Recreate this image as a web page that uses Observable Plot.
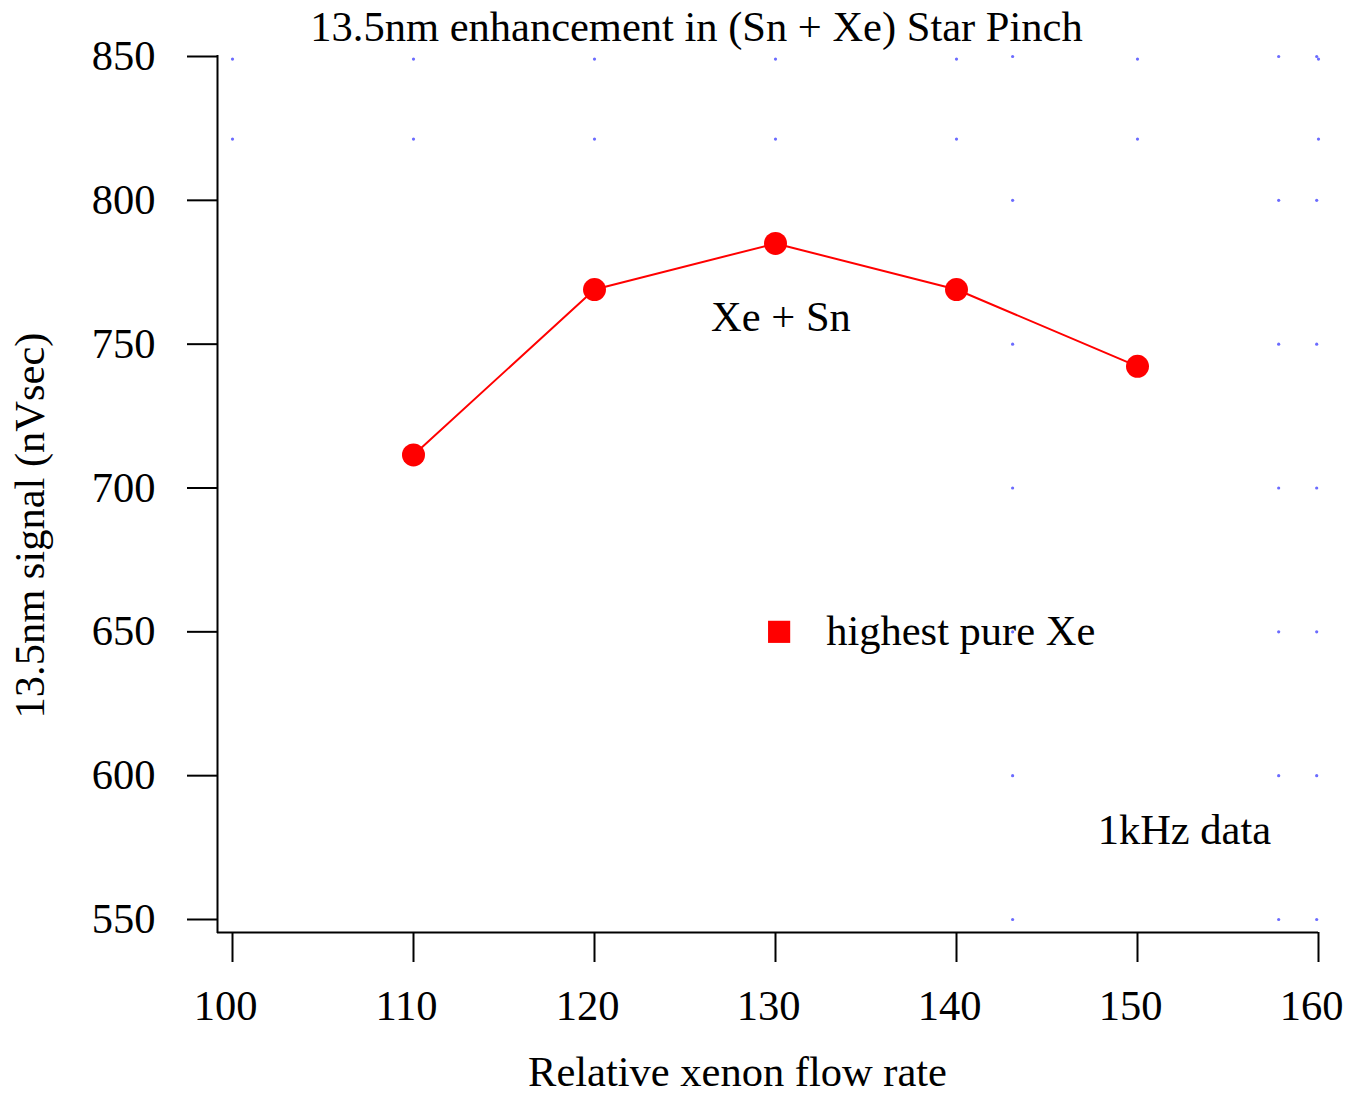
<!DOCTYPE html>
<html><head><meta charset="utf-8">
<script src="https://cdn.jsdelivr.net/npm/d3@7"></script>
<script src="https://cdn.jsdelivr.net/npm/@observablehq/plot@0.6"></script>
<style>body{margin:0;background:#fff}</style>
</head><body><div id="chart"></div>
<script>
const flowRate = [110, 120, 130, 140, 150];
const signal = [711.5, 769, 785, 769, 742.3];
const pureXeX = [130.2];
const pureXeY = [650];
const xTicks = [100, 110, 120, 130, 140, 150, 160];
const yTicks = [550, 600, 650, 700, 750, 800, 850];
const gridAx = [100, 110, 120, 130, 140, 150, 160];
const gridAy = [849.1, 821.3];
const gridBx = [143.1, 157.8, 159.9];
const gridBy = [550, 600, 650, 700, 750, 800, 850];
const titleText = "13.5nm enhancement in (Sn + Xe) Star Pinch";
const xLabel = "Relative xenon flow rate";
const yLabel = "13.5nm signal (nVsec)";
const noteCenterText = ["Xe + Sn"];
const noteCenterX = [130.3];
const noteCenterY = [759.3];
const noteLeftText = ["highest pure Xe", "1kHz data"];
const noteLeftX = [132.8, 147.8];
const noteLeftY = [650, 581];

const series = flowRate.map((x, i) => ({x, y: signal[i]}));
const pure = pureXeX.map((x, i) => ({x, y: pureXeY[i]}));
const gridA = gridAx.flatMap(x => gridAy.map(y => ({x, y})));
const gridB = gridBx.flatMap(x => gridBy.map(y => ({x, y})));
const notesL = noteLeftText.map((t, i) => ({t, x: noteLeftX[i], y: noteLeftY[i]}));
const notesC = noteCenterText.map((t, i) => ({t, x: noteCenterX[i], y: noteCenterY[i]}));

const FS = 42.5;
const chart = Plot.plot({
  width: 1349,
  height: 1096,
  marginTop: 56,
  marginBottom: 177,
  marginLeft: 232,
  marginRight: 31,
  style: {fontFamily: "Liberation Serif", fontSize: FS + "px", background: "#fff", color: "#000"},
  x: {domain: [100, 160]},
  y: {domain: [550, 850]},
  marks: [
    Plot.dot(gridA, {x: "x", y: "y", r: 1.6, fill: "#6b6bff", stroke: null}),
    Plot.dot(gridB, {x: "x", y: "y", r: 1.6, fill: "#6b6bff", stroke: null}),
    Plot.ruleX([0], {x: () => 100, dx: -15, insetBottom: -14, insetTop: -1, stroke: "#000", strokeWidth: 2}),
    Plot.ruleY([0], {y: () => 550, dy: 13, insetLeft: -15, stroke: "#000", strokeWidth: 2}),
    Plot.axisY({ticks: yTicks, tickSize: 30, dx: -15, tickPadding: 32, strokeWidth: 2, fontSize: FS, label: null, tickFormat: d => String(d)}),
    Plot.axisX({ticks: xTicks, tickSize: 30, dy: 13, strokeWidth: 2, label: null, tickFormat: () => ""}),
    Plot.axisX({ticks: xTicks, tickSize: 0, dy: 13, dx: -7, tickPadding: 57, fontSize: FS, label: null, tickFormat: d => String(d)}),
    Plot.line(series, {x: "x", y: "y", stroke: "#ff0000", strokeWidth: 2}),
    Plot.dot(series, {x: "x", y: "y", r: 11.5, fill: "#ff0000", stroke: null}),
    Plot.dot(pure, {x: "x", y: "y", r: 12.5, symbol: "square", fill: "#ff0000", stroke: null}),
    Plot.text(notesC, {x: "x", y: "y", text: "t", fontSize: FS, textAnchor: "middle", fill: "#000"}),
    Plot.text(notesL, {x: "x", y: "y", text: "t", fontSize: FS, textAnchor: "start", fill: "#000"}),
    Plot.text([titleText], {frameAnchor: "top", lineAnchor: "middle", textAnchor: "middle", dy: -29, dx: -79, fontSize: FS, fill: "#000"}),
    Plot.text([xLabel], {frameAnchor: "bottom", lineAnchor: "middle", textAnchor: "middle", dy: 153, dx: -38, fontSize: FS, fill: "#000"}),
    Plot.text([yLabel], {frameAnchor: "left", rotate: -90, lineAnchor: "middle", textAnchor: "middle", dx: -202, dy: 37.5, fontSize: FS, fill: "#000"})
  ]
});
document.getElementById("chart").appendChild(chart);
</script>
</body></html>
